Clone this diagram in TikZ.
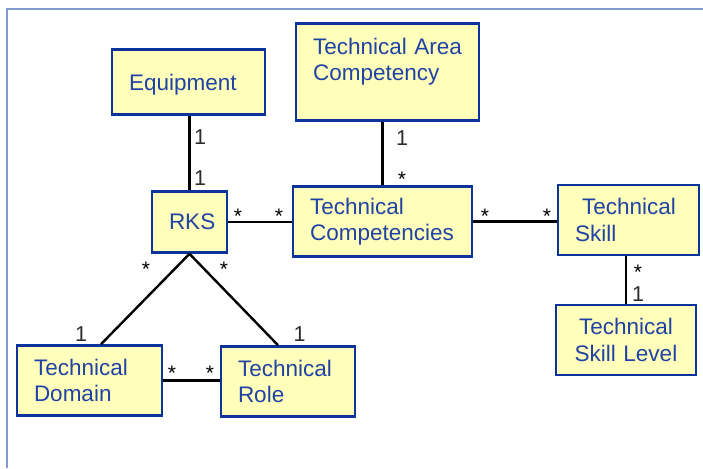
\documentclass[tikz,border=0pt]{standalone}
\usepackage{fontspec}
\setmainfont{Liberation Sans}
\usepackage{tikz}
\usetikzlibrary{positioning, shapes.geometric}
\definecolor{boxblue}{RGB}{10,52,155}
\definecolor{boxfill}{RGB}{255,255,187}
\definecolor{txtblue}{RGB}{32,66,165}
\definecolor{framecol}{RGB}{128,155,205}
\definecolor{multcol}{RGB}{45,45,45}
\hfuzz=30pt
\tikzstyle{entity} = [rectangle, draw=boxblue, fill=boxfill, line width=2.6pt, text=txtblue, align=left, inner xsep=17pt, inner ysep=0pt, font=\fontsize{22.5}{26.5}\selectfont]
\tikzstyle{assoc} = [line width=2.4pt, black]
\tikzstyle{one} = [anchor=base, inner sep=0pt, text=multcol, font=\fontsize{21.5}{24}\selectfont]
\tikzstyle{many} = [anchor=base, inner sep=0pt, text=black, font=\fontsize{21}{24}\selectfont]
\def\eh{70pt}

\begin{document}
\begin{tikzpicture}[x=1pt, y=-1pt]
\useasboundingbox (0,0) rectangle (703,468);
\draw [framecol, line width=2pt] (7,468) -- (7,9) -- (703,9);

% classes
\node (eq) [entity, text width=119pt, minimum height=65pt, text depth=0pt] at (188.5,82) {Equipment};
\node (tac) [entity, text width=149pt, minimum height=97pt] at (387.5,72) {Technical Area\\Competency\\[-9pt] \strut};
\node (rks) [entity, text width=41pt, minimum height=61pt, align=center] at (189.5,222) {RKS};
\node (tc) [entity, text width=145pt, minimum height=\eh] at (382.5,221.5) {Technical\\Competencies};
\node (ts) [entity, text width=107pt, minimum height=\eh] at (628.5,220) {\hspace*{7pt}Technical\\Skill};
\node (tsl) [entity, text width=106pt, minimum height=\eh, align=center] at (626,340) {Technical\\Skill Level};
\node (td) [entity, text width=111pt, minimum height=\eh] at (89.5,380.5) {Technical\\Domain};
\node (tr) [entity, text width=100pt, minimum height=\eh] at (288,381.5) {Technical\\Role};

% associations
\draw [assoc] (eq.south -| rks.north) -- (rks.north);
\draw [assoc] (tac.south -| tc.north) -- (tc.north);
\draw [assoc] (rks.east) -- (rks.east -| tc.west);
\draw [assoc] (tc.east) -- (tc.east -| ts.west);
\draw [assoc] (tsl.north |- ts.south) -- (tsl.north);
\draw [assoc] (rks.south) -- ([xshift=11.5pt]td.north);
\draw [assoc] (rks.south) -- ([xshift=-10pt]tr.north);
\draw [assoc] (td.east) -- (td.east -| tr.west);

% multiplicities
\node (eqa) [one] at (200,144.5) {1};
\node (eqb) [one] at (200,185.5) {1};
\node (taca) [one] at (402,145.5) {1};
\node (tacb) [many] at (402,186) {*};
\node (rksa) [many] at (238,223) {*};
\node (tca) [many] at (279,223) {*};
\node (tcb) [many] at (485,223) {*};
\node (tsa) [many] at (547,223) {*};
\node (tsb) [many] at (638,279.5) {*};
\node (tsla) [one] at (638,301.5) {1};
\node (rksb) [many] at (146,276.5) {*};
\node (rksc) [many] at (224,276.5) {*};
\node (tda) [one] at (81,341.5) {1};
\node (tra) [one] at (299.5,341.5) {1};
\node (tdb) [many] at (172,380) {*};
\node (trb) [many] at (210,380) {*};
\end{tikzpicture}
\end{document}
